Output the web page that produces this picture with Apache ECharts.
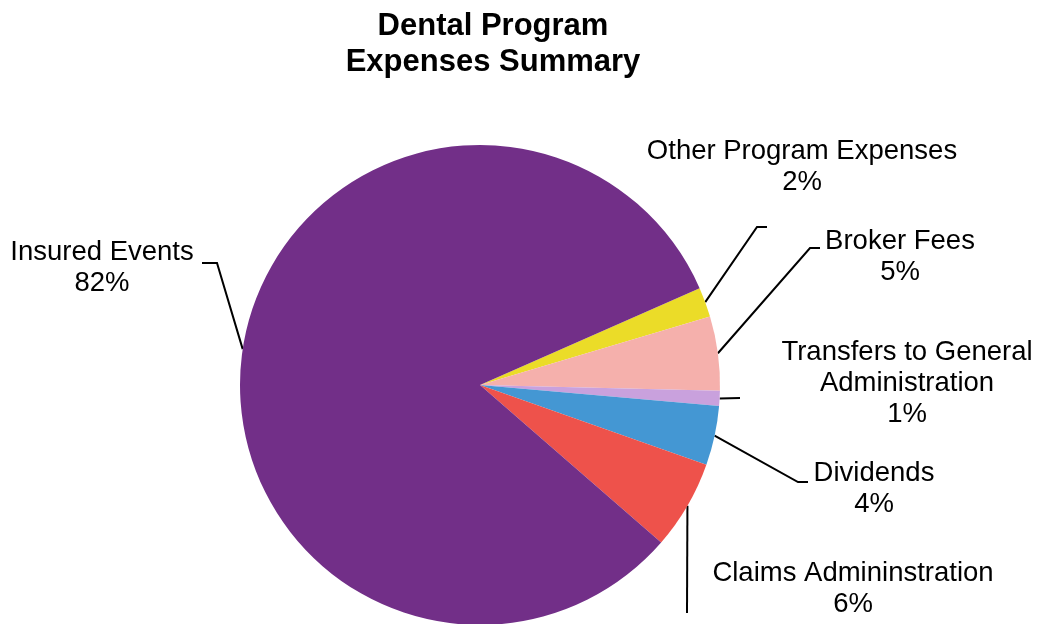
<!DOCTYPE html>
<html>
<head>
<meta charset="utf-8">
<title>Dental Program Expenses Summary</title>
<script src="https://cdn.jsdelivr.net/npm/echarts@6/dist/echarts.min.js"></script>
<style>
  html, body { margin: 0; padding: 0; background: #ffffff; }
  #chart { width: 1037px; height: 624px; }
</style>
</head>
<body>
<div id="chart"></div>
<script>
// Expense categories, in drawing order (clockwise from the top-right edge)
const categories = [
  'Other Program Expenses',
  'Broker Fees',
  'Transfers to General\nAdministration',
  'Dividends',
  'Claims Admininstration',
  'Insured Events'
];
// Share of total expenses, percent
const shares = [2, 5, 1, 4, 6, 82];
const sliceColors = ['#EBDC28', '#F5B0AC', '#C9A1DD', '#4497D3', '#EE524B', '#722F88'];

// Label placement: label block centre and the elbow of each leader line
const labelSpots = [
  { x: 802, y: 167, elbow: [757, 227], end: [767, 227] },
  { x: 900, y: 257, elbow: [810, 248], end: [820, 248] },
  { x: 907, y: 383, elbow: [740, 398], end: [740, 398] },
  { x: 874, y: 489, elbow: [798, 482], end: [808, 482] },
  { x: 853, y: 589, elbow: [687, 613], end: [687, 613] },
  { x: 102, y: 268, elbow: [217, 263], end: [202, 263] }
];

const chart = echarts.init(document.getElementById('chart'), null, { renderer: 'canvas' });

const pieData = categories.map((name, i) => ({
  name: name,
  value: shares[i],
  itemStyle: { color: sliceColors[i] }
}));

chart.setOption({
  animation: false,
  backgroundColor: '#ffffff',
  title: {
    text: 'Dental Program\nExpenses Summary',
    left: 488,
    top: 3,
    textAlign: 'center',
    textStyle: {
      fontFamily: 'Liberation Sans, Arial, sans-serif',
      fontSize: 31,
      fontWeight: 'bold',
      color: '#000000',
      lineHeight: 36
    }
  },
  series: [{
    type: 'pie',
    center: [480, 385],
    radius: 240,
    startAngle: 23.8,
    clockwise: true,
    avoidLabelOverlap: false,
    itemStyle: { borderWidth: 0 },
    emphasis: { disabled: true },
    data: pieData,
    label: {
      show: true,
      position: 'outside',
      formatter: p => p.name + '\n' + p.value + '%',
      fontFamily: 'Liberation Sans, Arial, sans-serif',
      fontSize: 27.5,
      lineHeight: 31,
      color: '#000000',
      align: 'center'
    },
    labelLine: {
      show: true,
      length: 10,
      length2: 10,
      smooth: false,
      lineStyle: { color: '#000000', width: 2 }
    },
    labelLayout: function (params) {
      const spot = labelSpots[params.dataIndex];
      const start = params.labelLinePoints ? params.labelLinePoints[0] : spot.elbow;
      return {
        x: spot.x,
        y: spot.y,
        align: 'center',
        verticalAlign: 'middle',
        hideOverlap: false,
        labelLinePoints: [start, spot.elbow, spot.end]
      };
    }
  }]
});
</script>
</body>
</html>
